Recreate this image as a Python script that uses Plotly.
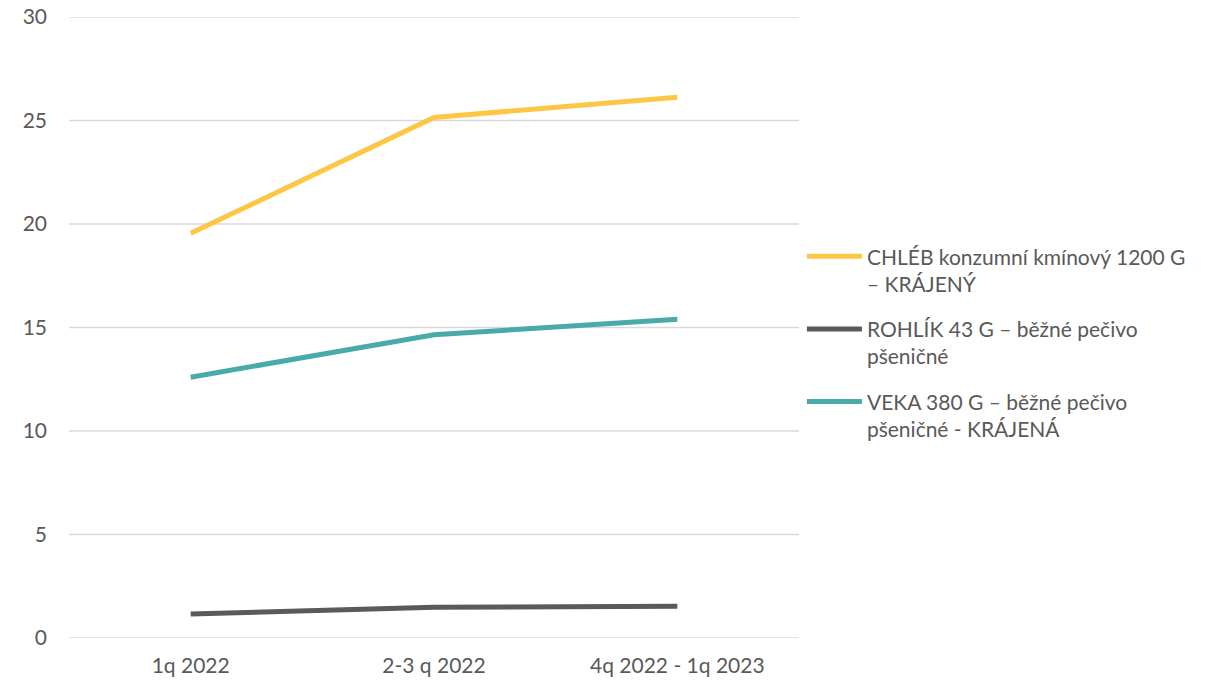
import plotly.graph_objects as go

categories = ["1q 2022", "2-3 q 2022", "4q 2022 - 1q 2023"]
chleb = [19.55, 25.15, 26.12]
rohlik = [1.16, 1.48, 1.53]
veka = [12.6, 14.65, 15.4]
names = [
    "CHLÉB konzumní kmínový 1200 G<br>– KRÁJENÝ",
    "ROHLÍK 43 G – běžné pečivo<br>pšeničné",
    "VEKA 380 G – běžné pečivo<br>pšeničné - KRÁJENÁ",
]
colors = ["#FDC745", "#5A5A5A", "#48AAA9"]
y_ticks = [0, 5, 10, 15, 20, 25, 30]

fig = go.Figure()
for i, (vals, name, col) in enumerate(zip([chleb, rohlik, veka], names, colors)):
    fig.add_trace(go.Scatter(
        x=categories, y=vals, name=name, mode="lines",
        legendgroup=f"g{i}",
        line=dict(color=col, width=5),
    ))

# horizontal gridlines (drawn as shapes so the edge lines at 0 and 30 show)
for t in y_ticks:
    fig.add_shape(type="line", xref="paper", x0=0, x1=1, yref="y", y0=t, y1=t,
                  line=dict(color="#D9D9D9", width=1.5), layer="below")

font_family = "Lato, 'Open Sans', sans-serif"
fig.update_layout(
    width=1217, height=683,
    margin=dict(l=61, r=426, t=9, b=53),
    paper_bgcolor="white", plot_bgcolor="white",
    font=dict(family=font_family, size=21, color="#595959"),
    showlegend=True,
    legend=dict(
        x=1.004, xanchor="left", y=0.647, yanchor="top",
        font=dict(size=21, color="#595959"),
        tracegroupgap=15, itemwidth=55, valign="top",
        bgcolor="rgba(0,0,0,0)",
    ),
    xaxis=dict(
        type="category", showgrid=False, zeroline=False, showline=False,
        ticks="", tickfont=dict(size=21, color="#595959"),
        range=[-0.5, 2.5], ticklabelstandoff=13, automargin=False,
    ),
    yaxis=dict(
        range=[0, 30], tickvals=y_ticks, showgrid=False,
        zeroline=False, showline=False, ticks="",
        tickfont=dict(size=21, color="#595959"), ticklabelstandoff=21,
        ticklabeloverflow="allow", automargin=False,
    ),
)
fig.write_html("out.html")
